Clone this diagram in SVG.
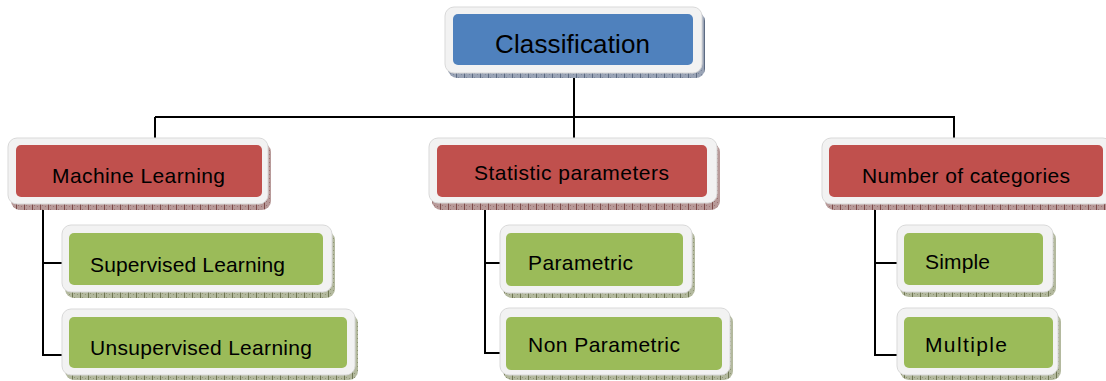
<svg xmlns="http://www.w3.org/2000/svg" width="1106" height="381" viewBox="0 0 1106 381">
<defs>
<pattern id="pb" width="8" height="4" patternUnits="userSpaceOnUse"><rect width="8" height="4" fill="#9aa4b6"/><rect x="0" y="0" width="1" height="4" fill="#5d6b82"/><rect x="2" y="1" width="1" height="1" fill="#7d889c"/><rect x="5" y="2" width="1" height="1" fill="#7d889c"/></pattern>
<pattern id="pr" width="8" height="4" patternUnits="userSpaceOnUse"><rect width="8" height="4" fill="#b89a99"/><rect x="0" y="0" width="1" height="4" fill="#7c4a48"/><rect x="2" y="1" width="1" height="1" fill="#9a7372"/><rect x="5" y="2" width="1" height="1" fill="#9a7372"/></pattern>
<pattern id="pg" width="8" height="4" patternUnits="userSpaceOnUse"><rect width="8" height="4" fill="#b3b99e"/><rect x="0" y="0" width="1" height="4" fill="#6f7652"/><rect x="2" y="1" width="1" height="1" fill="#8e9474"/><rect x="5" y="2" width="1" height="1" fill="#8e9474"/></pattern>
</defs>
<style>
.out{fill:#f2f2f2;stroke:#d9d9d9;stroke-width:1}
.sb{fill:url(#pb)} .sr{fill:url(#pr)} .sg{fill:url(#pg)}
.blue{fill:#4f81bd} .red{fill:#c0504d} .green{fill:#9bbb59}
text{font-family:"Liberation Sans",Arial,sans-serif;fill:#000}
.t1{font-size:26px} .t2{font-size:21px}
.con{fill:none;stroke:#000;stroke-width:2}
</style>
<g id="connectors">
<path class="con" d="M574,73V117M155,117H955M155,117V139M574,117V139M954,117V139"/>
<path class="con" d="M43,206V355H62M43,263H62"/>
<path class="con" d="M485,206V353H500M485,263H500"/>
<path class="con" d="M875,206V355H897M875,263H897"/>
</g>
<g id="classification">
<rect class="sb" x="448" y="12" width="257" height="66" rx="9"/>
<rect class="out" x="445" y="7" width="257" height="66" rx="9"/>
<rect class="blue" x="453" y="14" width="240" height="51" rx="5"/>
<text class="t1" x="495" y="53" textLength="155">Classification</text>
</g>
<g id="machine-learning">
<rect class="sr" x="11" y="143" width="260" height="67" rx="9"/>
<rect class="out" x="8" y="138" width="260" height="66" rx="9"/>
<rect class="red" x="16" y="145" width="246" height="52" rx="5"/>
<text class="t2" x="52" y="183" textLength="173">Machine Learning</text>
</g>
<g id="statistic-parameters">
<rect class="sr" x="432" y="143" width="288" height="67" rx="9"/>
<rect class="out" x="429" y="138" width="288" height="65" rx="9"/>
<rect class="red" x="437" y="145" width="270" height="52" rx="5"/>
<text class="t2" x="474" y="180" textLength="195">Statistic parameters</text>
</g>
<g id="number-of-categories">
<rect class="sr" x="825" y="143" width="290" height="67" rx="9"/>
<rect class="out" x="822" y="138" width="290" height="66" rx="9"/>
<rect class="red" x="829" y="145" width="274" height="52" rx="5"/>
<text class="t2" x="862" y="183" textLength="208">Number of categories</text>
</g>
<g id="supervised-learning">
<rect class="sg" x="65" y="231" width="270" height="67" rx="9"/>
<rect class="out" x="62" y="225" width="270" height="67" rx="9"/>
<rect class="green" x="69" y="233" width="254" height="52" rx="5"/>
<text class="t2" x="90" y="272" textLength="195">Supervised Learning</text>
</g>
<g id="unsupervised-learning">
<rect class="sg" x="65" y="314" width="293" height="66" rx="9"/>
<rect class="out" x="62" y="309" width="293" height="66" rx="9"/>
<rect class="green" x="69" y="317" width="278" height="51" rx="5"/>
<text class="t2" x="90" y="355" textLength="222">Unsupervised Learning</text>
</g>
<g id="parametric">
<rect class="sg" x="503" y="230" width="192" height="68" rx="9"/>
<rect class="out" x="500" y="225" width="192" height="68" rx="9"/>
<rect class="green" x="506" y="233" width="177" height="53" rx="5"/>
<text class="t2" x="528" y="270" textLength="105">Parametric</text>
</g>
<g id="non-parametric">
<rect class="sg" x="503" y="313" width="230" height="67" rx="9"/>
<rect class="out" x="500" y="308" width="230" height="67" rx="9"/>
<rect class="green" x="506" y="317" width="216" height="53" rx="5"/>
<text class="t2" x="528" y="352" textLength="152">Non Parametric</text>
</g>
<g id="simple">
<rect class="sg" x="900" y="230" width="156" height="67" rx="9"/>
<rect class="out" x="897" y="225" width="156" height="67" rx="9"/>
<rect class="green" x="904" y="233" width="139" height="52" rx="5"/>
<text class="t2" x="925" y="269" textLength="65">Simple</text>
</g>
<g id="multiple">
<rect class="sg" x="900" y="313" width="161" height="67" rx="9"/>
<rect class="out" x="897" y="308" width="161" height="67" rx="9"/>
<rect class="green" x="904" y="317" width="149" height="51" rx="5"/>
<text class="t2" x="925" y="352" textLength="82">Multiple</text>
</g>
</svg>
